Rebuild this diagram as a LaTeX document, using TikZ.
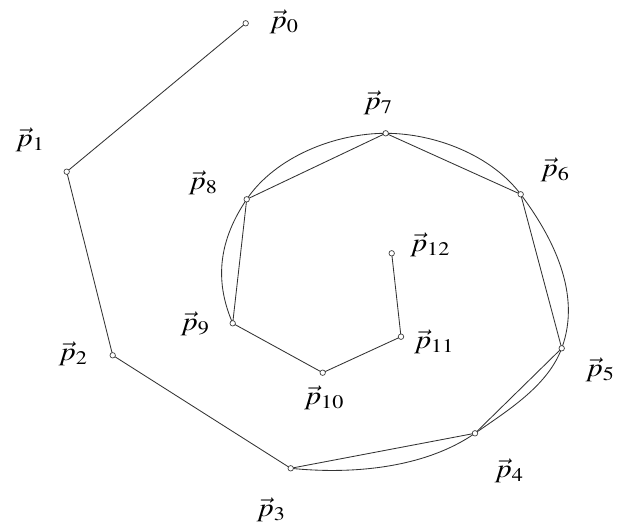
\documentclass[tikz,border=0pt]{standalone}
\usepackage{mathptmx}
\newcommand{\pvlab}[1]{\scalebox{1.15}[1]{$\vec{p}_{#1}$}}
\begin{document}
\begin{tikzpicture}[x=1pt,y=-1pt,
  vtx/.style={circle,draw=black!75,line width=0.7pt,inner sep=0pt,minimum size=5.5pt,fill=white},
  lbl/.style={inner sep=0pt,font=\fontsize{26}{30}\selectfont},
  edge/.style={draw=black!80,line width=0.85pt},
  spl/.style={draw=black!80,line width=0.85pt}]
\useasboundingbox (0,0) rectangle (627,526);
% points
\coordinate (c0) at (245.7,23.3);
\coordinate (c1) at (66.7,171.7);
\coordinate (c2) at (112.7,355.3);
\coordinate (c3) at (290.7,468.3);
\coordinate (c4) at (475,433.3);
\coordinate (c5) at (561.7,348.3);
\coordinate (c6) at (520.7,194.3);
\coordinate (c7) at (385.7,133.3);
\coordinate (c8) at (246.7,199.3);
\coordinate (c9) at (232.7,323.3);
\coordinate (c10) at (322.7,372.7);
\coordinate (c11) at (401,336.7);
\coordinate (c12) at (391.7,253.3);
% spline curve
\draw[spl] (c3) .. controls (350.7,474.5) and (424.2,468.6) .. (c4)
  .. controls (507.8,410.5) and (547.7,385.9) .. (c5)
  .. controls (582,293.8) and (552.5,236.7) .. (c6)
  .. controls (491.3,155.1) and (434.7,133.3) .. (c7)
  .. controls (334.7,133.3) and (275.3,157) .. (c8)
  .. controls (219.8,239.1) and (213.5,279.1) .. (c9);
% polygon
\draw[edge] (c0) -- (c1) -- (c2) -- (c3) -- (c4) -- (c5) -- (c6) -- (c7) -- (c8) -- (c9) -- (c10) -- (c11) -- (c12);
% vertex markers
\foreach \i in {0,...,12} { \node[vtx] (p\i) at (c\i) {}; }
% labels
\node[lbl] (l0) at (284,22) {\pvlab{0}};
\node[lbl] (l1) at (30,140) {\pvlab{1}};
\node[lbl] (l2) at (73,354) {\pvlab{2}};
\node[lbl] (l3) at (271,510) {\pvlab{3}};
\node[lbl] (l4) at (509,471) {\pvlab{4}};
\node[lbl] (l5) at (600,370) {\pvlab{5}};
\node[lbl] (l6) at (555,170) {\pvlab{6}};
\node[lbl] (l7) at (378,103) {\pvlab{7}};
\node[lbl] (l8) at (203,183) {\pvlab{8}};
\node[lbl] (l9) at (195,324) {\pvlab{9}};
\node[lbl] (l10) at (324,398) {\pvlab{10}};
\node[lbl] (l11) at (434,342) {\pvlab{11}};
\node[lbl] (l12) at (430,245) {\pvlab{12}};
\end{tikzpicture}
\end{document}
